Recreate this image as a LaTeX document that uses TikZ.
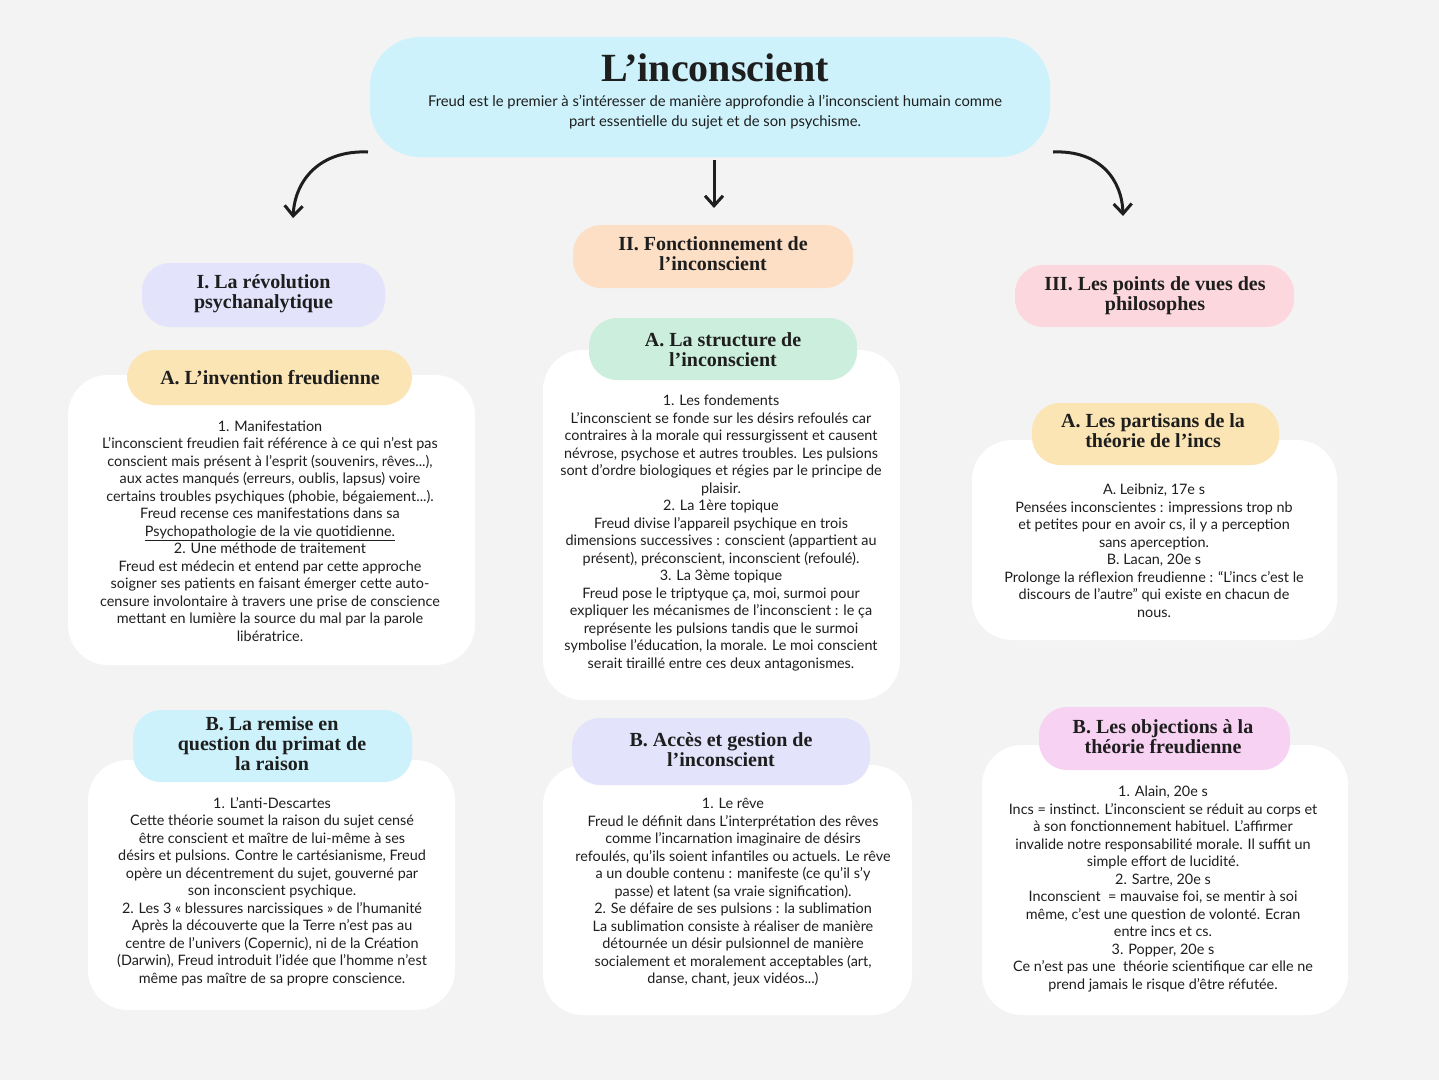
\documentclass[tikz,border=0pt]{standalone}
\usetikzlibrary{arrows.meta}
\usepackage{fontspec}
\setmainfont{Lato}
\newfontfamily\headf{Liberation Serif}[BoldFont={Liberation Serif Bold}]
\definecolor{bg}{HTML}{F3F3F3}
\definecolor{cyanc}{HTML}{CDF2FB}
\definecolor{lav}{HTML}{E3E3FB}
\definecolor{yel}{HTML}{FBE5B5}
\definecolor{peach}{HTML}{FDDFC6}
\definecolor{mint}{HTML}{CCEEDC}
\definecolor{pinkc}{HTML}{FCD8DE}
\definecolor{mag}{HTML}{F7D2F3}
\definecolor{txt}{HTML}{1E1E1E}
\tikzset{
 wbox/.style={fill=white,draw=none,rounded corners=40pt},
 pill/.style={draw=none,rounded corners=28pt},
 head/.style={font=\headf\bfseries\fontsize{20}{20}\selectfont,align=center,text=txt},
 body/.style={font=\fontsize{14.4}{17.5}\selectfont,align=center,text=txt},
 arr/.style={-{Straight Barb[length=10pt,width=18pt]},line width=3pt,txt}
}
\begin{document}
\begin{tikzpicture}[x=1pt,y=-1pt]
\fill[bg] (0,0) rectangle (1439,1080);
\useasboundingbox (0,0) rectangle (1439,1080);
% title
\fill[cyanc,rounded corners=50pt] (370,37) rectangle (1050,157);
\node[font=\headf\bfseries\fontsize{40}{40}\selectfont,text=txt] (title) at (715,68) {L’inconscient};
\node[body,font=\fontsize{14.8}{20}\selectfont] (sub) at (715,112.5) {Freud est le premier à s’intéresser de manière approfondie à l’inconscient humain comme\\part essentielle du sujet et de son psychisme.};
% arrows
\coordinate (l0) at (368,152); \coordinate (l1) at (293,218);
\coordinate (m0) at (714,160); \coordinate (m1) at (714,208);
\coordinate (r0) at (1053,152); \coordinate (r1) at (1123,216);
\draw[arr] (l0) .. controls (320,150) and (295,180) .. (l1);
\draw[arr] (m0) -- (m1);
\draw[arr] (r0) .. controls (1100,150) and (1122,180) .. (r1);
% white boxes
\fill[wbox] (68,375) rectangle (475,665);
\fill[wbox] (88,760) rectangle (455,1010);
\fill[wbox] (543,350) rectangle (900,700);
\fill[wbox] (543,765) rectangle (912,1015);
\fill[wbox] (972,440) rectangle (1337,640);
\fill[wbox] (982,745) rectangle (1348,1015);
% pills
\fill[lav,pill] (142,263) rectangle (385,327);
\node[head] (h1) at (263.5,294) {I. La révolution\\psychanalytique};
\fill[yel,pill] (127,350) rectangle (412,405);
\node[head] (h1a) at (270,378) {A. L’invention freudienne};
\fill[cyanc,pill] (133,710) rectangle (412,782);
\node[head] (h1b) at (272,744) {B. La remise en\\question du primat de\\la raison};
\fill[peach,pill] (573,225) rectangle (853,288);
\node[head] (h2) at (713,254) {II. Fonctionnement de\\l’inconscient};
\fill[mint,pill] (589,318) rectangle (857,380);
\node[head] (h2a) at (723,350) {A. La structure de\\l’inconscient};
\fill[lav,pill] (572,718) rectangle (870,785);
\node[head] (h2b) at (721,750) {B. Accès et gestion de\\l’inconscient};
\fill[pinkc,pill] (1015,265) rectangle (1294,327);
\node[head] (h3) at (1155,296) {III. Les points de vues des\\philosophes};
\fill[yel,pill] (1032,403) rectangle (1279,465);
\node[head] (h3a) at (1153,431) {A. Les partisans de la\\théorie de l’incs};
\fill[mag,pill] (1039,707) rectangle (1290,770);
\node[head] (h3b) at (1163,737) {B. Les objections à la\\théorie freudienne};
% bodies
\node[body] (b1a) at (270,531) {1. Manifestation\\L’inconscient freudien fait référence à ce qui n’est pas\\conscient mais présent à l’esprit (souvenirs, rêves...),\\aux actes manqués (erreurs, oublis, lapsus) voire\\certains troubles psychiques (phobie, bégaiement...).\\Freud recense ces manifestations dans sa\\\underline{Psychopathologie de la vie quotidienne.}\\2. Une méthode de traitement\\Freud est médecin et entend par cette approche\\soigner ses patients en faisant émerger cette auto-\\censure involontaire à travers une prise de conscience\\mettant en lumière la source du mal par la parole\\libératrice.};
\node[body] (b1b) at (272,891.5) {1. L’anti-Descartes\\Cette théorie soumet la raison du sujet censé\\être conscient et maître de lui-même à ses\\désirs et pulsions. Contre le cartésianisme, Freud\\opère un décentrement du sujet, gouverné par\\son inconscient psychique.\\2. Les 3 « blessures narcissiques » de l’humanité\\Après la découverte que la Terre n’est pas au\\centre de l’univers (Copernic), ni de la Création\\(Darwin), Freud introduit l’idée que l’homme n’est\\même pas maître de sa propre conscience.};
\node[body] (b2a) at (721,533) {1. Les fondements\\L’inconscient se fonde sur les désirs refoulés car\\contraires à la morale qui ressurgissent et causent\\névrose, psychose et autres troubles. Les pulsions\\sont d’ordre biologiques et régies par le principe de\\plaisir.\\2. La 1ère topique\\Freud divise l’appareil psychique en trois\\dimensions successives : conscient (appartient au\\présent), préconscient, inconscient (refoulé).\\3. La 3ème topique\\Freud pose le triptyque ça, moi, surmoi pour\\expliquer les mécanismes de l’inconscient : le ça\\représente les pulsions tandis que le surmoi\\symbolise l’éducation, la morale. Le moi conscient\\serait tiraillé entre ces deux antagonismes.};
\node[body] (b2b) at (733,892.5) {1. Le rêve\\Freud le définit dans L’interprétation des rêves\\comme l’incarnation imaginaire de désirs\\refoulés, qu’ils soient infantiles ou actuels. Le rêve\\a un double contenu : manifeste (ce qu’il s’y\\passe) et latent (sa vraie signification).\\2. Se défaire de ses pulsions : la sublimation\\La sublimation consiste à réaliser de manière\\détournée un désir pulsionnel de manière\\socialement et moralement acceptables (art,\\danse, chant, jeux vidéos...)};
\node[body] (b3a) at (1154,550.5) {A. Leibniz, 17e s\\Pensées inconscientes : impressions trop nb\\et petites pour en avoir cs, il y a perception\\sans aperception.\\B. Lacan, 20e s\\Prolonge la réflexion freudienne : “L’incs c’est le\\discours de l’autre” qui existe en chacun de\\nous.};
\node[body] (b3b) at (1163,889) {1. Alain, 20e s\\Incs = instinct. L’inconscient se réduit au corps et\\à son fonctionnement habituel. L’affirmer\\invalide notre responsabilité morale. Il suffit un\\simple effort de lucidité.\\2. Sartre, 20e s\\Inconscient \ = mauvaise foi, se mentir à soi\\même, c’est une question de volonté. Ecran\\entre incs et cs.\\3. Popper, 20e s\\Ce n’est pas une \ théorie scientifique car elle ne\\prend jamais le risque d’être réfutée.};
\end{tikzpicture}
\end{document}
